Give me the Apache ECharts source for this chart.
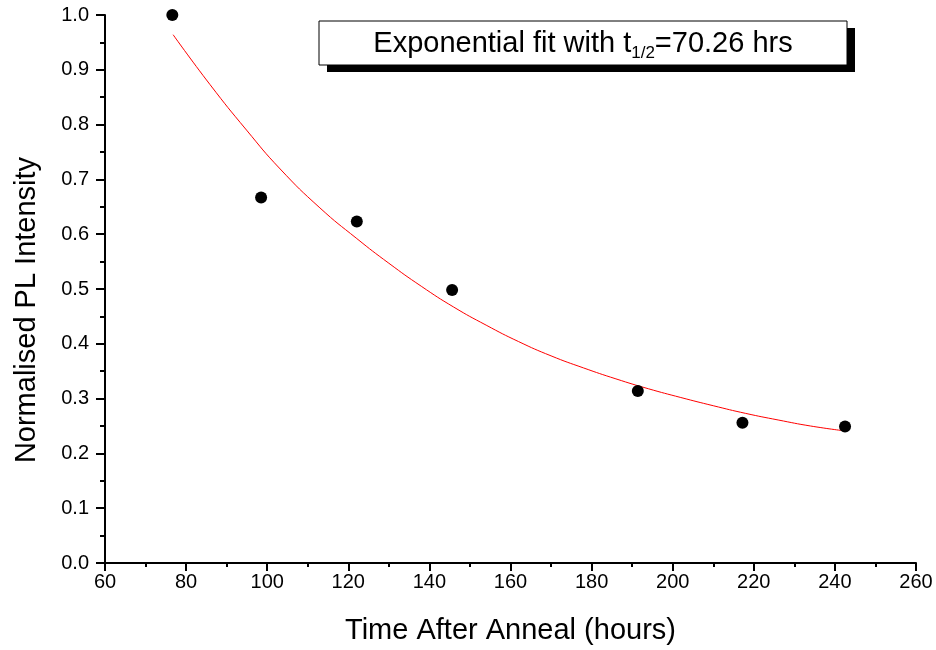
<!DOCTYPE html>
<html>
<head>
<meta charset="utf-8">
<script src="https://cdn.jsdelivr.net/npm/echarts@6/dist/echarts.min.js"></script>
<style>
  html, body { margin: 0; padding: 0; background: #fff; }
  #chart { width: 936px; height: 650px; }
</style>
</head>
<body>
<div id="chart"></div>
<script>
// Measured photoluminescence after annealing
const timeHours = [76.6, 98.5, 122.1, 145.6, 191.4, 217.2, 242.5];
const plIntensity = [1.0, 0.667, 0.623, 0.498, 0.314, 0.256, 0.249];

// Exponential fit curve (t1/2 = 70.26 hrs), sampled along the trace
const fitTime = [76.8, 85.9, 94.9, 103.2, 113.0, 122.1, 130.0, 138.0, 146.0, 154.0, 162.0, 170.0, 178.0, 186.0, 194.0, 202.0, 210.0, 218.0, 226.0, 234.0, 242.5];
const fitValue = [0.964, 0.873, 0.790, 0.719, 0.648, 0.592, 0.547, 0.505, 0.467, 0.434, 0.404, 0.378, 0.356, 0.336, 0.318, 0.302, 0.287, 0.273, 0.261, 0.250, 0.241];

const xTicks = { min: 60, max: 260, interval: 20 };
const yTicks = { min: 0, max: 1.0, interval: 0.1 };

const scatterData = timeHours.map((t, i) => [t, plIntensity[i]]);
const fitData = fitTime.map((t, i) => [t, fitValue[i]]);

const chart = echarts.init(document.getElementById('chart'), null, { renderer: 'canvas' });

const lineBlack = { color: '#000', width: 2 };

chart.setOption({
  animation: false,
  backgroundColor: '#fff',
  grid: { left: 105, right: 20, top: 15, bottom: 87, containLabel: false },
  xAxis: {
    type: 'value',
    min: xTicks.min, max: xTicks.max, interval: xTicks.interval,
    name: 'Time After Anneal (hours)',
    nameLocation: 'middle',
    nameGap: 53,
    nameTextStyle: { fontFamily: 'Liberation Sans', fontSize: 29, color: '#000' },
    axisLine: { show: true, onZero: false, lineStyle: lineBlack },
    axisTick: { show: true, inside: false, length: 8, lineStyle: lineBlack },
    minorTick: { show: true, splitNumber: 2, length: 4, lineStyle: lineBlack },
    splitLine: { show: false },
    axisLabel: { margin: 9, fontFamily: 'Liberation Sans', fontSize: 20, color: '#000' }
  },
  yAxis: {
    type: 'value',
    min: yTicks.min, max: yTicks.max, interval: yTicks.interval,
    name: 'Normalised PL Intensity',
    nameLocation: 'middle',
    nameGap: 64,
    nameTextStyle: { fontFamily: 'Liberation Sans', fontSize: 29, color: '#000', padding: [0, 42, 0, 0] },
    axisLine: { show: true, onZero: false, lineStyle: lineBlack },
    axisTick: { show: true, inside: false, length: 9, lineStyle: lineBlack },
    minorTick: { show: true, splitNumber: 2, length: 5, lineStyle: lineBlack },
    splitLine: { show: false },
    axisLabel: { margin: 16, fontFamily: 'Liberation Sans', fontSize: 20, color: '#000',
      formatter: v => v.toFixed(1) }
  },
  series: [
    {
      type: 'line',
      data: fitData,
      smooth: 0.5,
      showSymbol: false,
      lineStyle: { color: '#ff0000', width: 1 },
      z: 2
    },
    {
      type: 'scatter',
      data: scatterData,
      symbol: 'circle',
      symbolSize: 12,
      itemStyle: { color: '#000', opacity: 1 },
      z: 3
    }
  ],
  graphic: [
    { type: 'rect', shape: { x: 327, y: 28, width: 528, height: 44 }, style: { fill: '#000' }, z: 10 },
    { type: 'rect', shape: { x: 319, y: 21, width: 528, height: 44 }, style: { fill: '#fff', stroke: '#000', lineWidth: 1 }, z: 11 },
    {
      type: 'text', x: 583, y: 44, z: 12,
      style: {
        text: '{a|Exponential fit with t}{s|1/2}{a|=70.26 hrs}',
        align: 'center', verticalAlign: 'middle',
        rich: {
          a: { fontFamily: 'Liberation Sans', fontSize: 29, color: '#000', lineHeight: 36 },
          s: { fontFamily: 'Liberation Sans', fontSize: 17, color: '#000', lineHeight: 20, verticalAlign: 'bottom', padding: [16, 0, 0, 0] }
        }
      }
    }
  ]
});
</script>
</body>
</html>
